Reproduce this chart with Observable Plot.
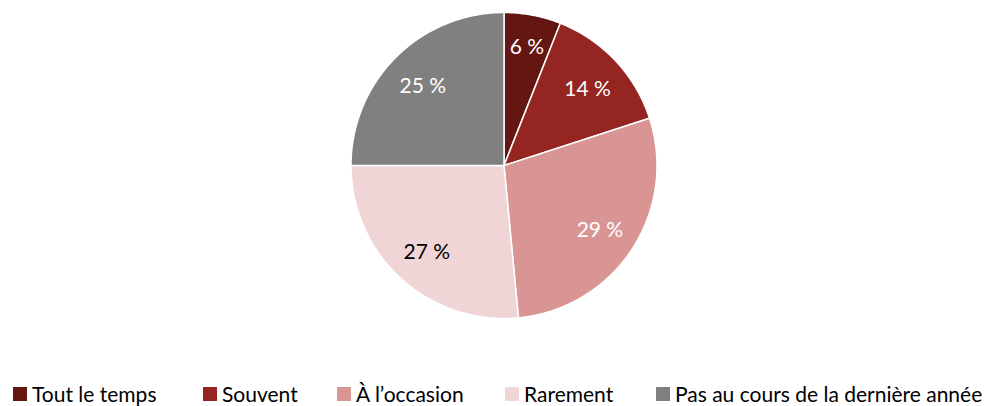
<!DOCTYPE html>
<html><head><meta charset="utf-8">
<script src="https://cdn.jsdelivr.net/npm/d3@7"></script>
<script src="https://cdn.jsdelivr.net/npm/@observablehq/plot@0.6"></script>
<style>
body{margin:0;background:#fff;font-family:Lato,"Open Sans",sans-serif;overflow:hidden;}
#chart{position:relative;width:1005px;height:406px;}
#legend{position:absolute;top:382px;left:0;width:1005px;height:24px;font-size:21px;line-height:24px;color:#000;}
.li{position:absolute;top:0;height:24px;display:flex;align-items:center;white-space:nowrap;}
.sw{width:14px;height:14px;margin-right:5px;display:inline-block;}
</style></head>
<body><div id="chart"><div id="legend"></div></div>
<script>
const categories = ["Tout le temps","Souvent","À l’occasion","Rarement","Pas au cours de la dernière année"];
const values = [6.0, 14.0, 28.5, 26.5, 25.0];
const labels = ["6 %","14 %","29 %","27 %","25 %"];
const colors = ["#631612","#942520","#D99594","#F0D5D6","#808080"];
const labelColors = ["#fff","#fff","#fff","#000","#fff"];
const legendX = [13, 203, 337, 505, 656];

const W = 1005, H = 330, cx = 503.5, cy = 165, R = 153;
const arcs = d3.pie().sort(null).value(d => d)(values);
const polys = [];
arcs.forEach((a, i) => {
  polys.push({k: categories[i], x: 0, y: 0});
  const n = Math.max(2, Math.ceil((a.endAngle - a.startAngle) * 90));
  for (let j = 0; j <= n; j++) {
    const t = a.startAngle + (a.endAngle - a.startAngle) * j / n;
    polys.push({k: categories[i], x: Math.sin(t), y: Math.cos(t)});
  }
  polys.push({k: categories[i], x: 0, y: 0});
});
const lab = arcs.map((a, i) => {
  const m = (a.startAngle + a.endAngle) / 2;
  const r = i === 0 ? 0.8 : 0.75;
  return {x: r * Math.sin(m), y: r * Math.cos(m), t: labels[i], c: labelColors[i]};
});

const plot = Plot.plot({
  width: W, height: H, margin: 0,
  x: {domain: [-cx / R, (W - cx) / R], axis: null},
  y: {domain: [-(H - cy) / R, cy / R], axis: null},
  color: {domain: categories, range: colors},
  marks: [
    Plot.line(polys, {x: "x", y: "y", z: "k", fill: "k", stroke: "#fff", strokeWidth: 1.5, curve: "linear"}),
    Plot.text(lab, {x: "x", y: "y", dy: 2, text: "t", fill: "c", fontSize: 21, fontFamily: "Lato, 'Open Sans', sans-serif"})
  ]
});
plot.style.position = "absolute"; plot.style.left = "0"; plot.style.top = "0";
document.getElementById("chart").prepend(plot);

const lg = document.getElementById("legend");
categories.forEach((c, i) => {
  const d = document.createElement("div");
  d.className = "li"; d.style.left = legendX[i] + "px";
  d.innerHTML = `<span class="sw" style="background:${colors[i]}"></span><span>${c}</span>`;
  lg.appendChild(d);
});
</script></body></html>
